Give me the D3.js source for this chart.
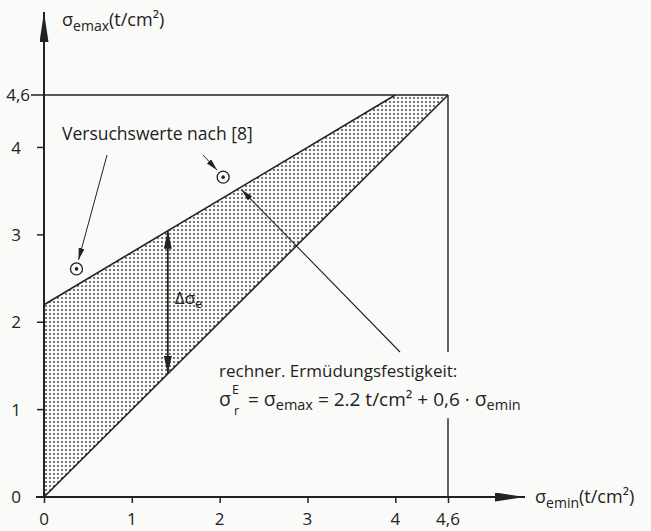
<!DOCTYPE html>
<html>
<head>
<meta charset="utf-8">
<script src="https://cdn.jsdelivr.net/npm/d3@7"></script>
<style>
  html, body { margin: 0; padding: 0; background: #fafaf8; }
  svg { display: block; font-family: "Open Sans", sans-serif; }
</style>
</head>
<body>
<div id="chart"></div>
<script>
// Achsenteilung
const xTicks = [0, 1, 2, 3, 4, 4.6];
const yTicks = [0, 1, 2, 3, 4, 4.6];
const tickLabels = ["0", "1", "2", "3", "4", "4,6"];

// Grenzlinien des Dauerfestigkeitsbereichs
const lowerLine = [[0, 0], [4.6, 4.6]];       // σemax = σemin
const upperLine = [[0, 2.2], [4, 4.6]];       // σemax = 2.2 + 0.6·σemin
const capLine = [[0, 4.6], [4.6, 4.6]];

// Versuchswerte nach [8]
const testPoints = [[0.37, 2.61], [2.04, 3.66]];

// Δσe Pfeil bei σemin = 1.41
const deltaX = 1.41;

const width = 651, height = 531;

const svg = d3.select("#chart").append("svg")
    .attr("width", width)
    .attr("height", height);

const x = d3.scaleLinear().domain([0, 4.6]).range([44, 448]);
const y = d3.scaleLinear().domain([0, 4.6]).range([497, 95]);

const ink = "#222";

// Punktraster
const defs = svg.append("defs");
const pat = defs.append("pattern")
    .attr("id", "dots")
    .attr("patternUnits", "userSpaceOnUse")
    .attr("width", 4).attr("height", 4);
pat.append("circle").attr("cx", 2).attr("cy", 2).attr("r", 0.9).attr("fill", "#3a3a3a");

function head(id, w, h) {
    defs.append("marker")
        .attr("id", id)
        .attr("viewBox", `0 ${-h / 2} ${w} ${h}`)
        .attr("refX", w).attr("refY", 0)
        .attr("markerWidth", w).attr("markerHeight", h)
        .attr("markerUnits", "userSpaceOnUse")
        .attr("orient", "auto-start-reverse")
        .append("path")
        .attr("d", `M0,${-h / 2}L${w},0L0,${h / 2}Z`)
        .attr("fill", ink);
}
head("axisHead", 30, 9);
head("bigHead", 18, 8);
head("smallHead", 12, 6);

const line = d3.line().x(d => x(d[0])).y(d => y(d[1]));

// Fläche
const band = upperLine.concat(lowerLine.slice().reverse());
svg.append("path")
    .attr("d", line(band) + "Z")
    .attr("fill", "url(#dots)");

// Grenzlinien
svg.append("path").attr("d", line(lowerLine)).attr("stroke", ink).attr("stroke-width", 1.6).attr("fill", "none");
svg.append("path").attr("d", line(upperLine)).attr("stroke", ink).attr("stroke-width", 1.6).attr("fill", "none");
svg.append("path").attr("d", line(capLine)).attr("stroke", ink).attr("stroke-width", 1.6).attr("fill", "none");
// rechte Senkrechte, unterbrochen beim Text
svg.append("path").attr("d", line([[4.6, 4.6], [4.6, 1.66]])).attr("stroke", ink).attr("stroke-width", 1.4);
svg.append("path").attr("d", line([[4.6, 0.9], [4.6, 0]])).attr("stroke", ink).attr("stroke-width", 1.4);

// Achsen
const xAxis = svg.append("g")
    .attr("transform", `translate(0,${y(0)})`)
    .call(d3.axisBottom(x).tickValues(xTicks).tickSize(6).tickSizeOuter(0).tickFormat(""));
xAxis.select(".domain").remove();
xAxis.selectAll("line").attr("stroke", ink).attr("stroke-width", 1.5);

svg.append("line")
    .attr("x1", x(0) - 8).attr("y1", y(0))
    .attr("x2", 525).attr("y2", y(0))
    .attr("stroke", ink).attr("stroke-width", 2)
    .attr("marker-end", "url(#axisHead)");

svg.append("line")
    .attr("x1", x(0)).attr("y1", y(0))
    .attr("x2", x(0)).attr("y2", 12)
    .attr("stroke", ink).attr("stroke-width", 2)
    .attr("marker-end", "url(#axisHead)");

svg.selectAll(".ytick")
    .data(yTicks)
    .join("line")
    .attr("x1", (d, i) => i === yTicks.length - 1 ? 31 : x(0) - 7)
    .attr("x2", x(0))
    .attr("y1", d => y(d)).attr("y2", d => y(d))
    .attr("stroke", ink).attr("stroke-width", 1.5);

svg.selectAll(".xlab")
    .data(xTicks)
    .join("text")
    .attr("x", d => x(d))
    .attr("y", 525)
    .attr("text-anchor", "middle")
    .attr("font-size", 17)
    .attr("fill", ink)
    .text((d, i) => tickLabels[i]);

svg.selectAll(".ylab")
    .data(yTicks)
    .join("text")
    .attr("x", (d, i) => i === yTicks.length - 1 ? 30 : 21)
    .attr("y", d => y(d))
    .attr("dy", "0.36em")
    .attr("text-anchor", "end")
    .attr("font-size", 17)
    .attr("fill", ink)
    .text((d, i) => tickLabels[i]);

// Achsentitel
function sigmaLabel(px, py, sub, tail, big) {
    const t = svg.append("text").attr("x", px).attr("y", py).attr("fill", ink).attr("font-size", big);
    t.append("tspan").text("σ");
    t.append("tspan").attr("font-size", big * 0.78).attr("dy", 5).text(sub);
    if (tail) t.append("tspan").attr("dy", -5).text(tail);
    return t;
}
sigmaLabel(62, 26, "emax", "(t/cm²)", 18);
sigmaLabel(535, 503, "emin", "(t/cm²)", 18);

// Versuchswerte
const pts = svg.selectAll(".pt").data(testPoints).join("g");
pts.append("circle")
    .attr("cx", d => x(d[0])).attr("cy", d => y(d[1]))
    .attr("r", 6).attr("fill", "none").attr("stroke", ink).attr("stroke-width", 1.3);
pts.append("circle")
    .attr("cx", d => x(d[0])).attr("cy", d => y(d[1]))
    .attr("r", 1.8).attr("fill", ink);

svg.append("text")
    .attr("x", 62).attr("y", 140)
    .attr("font-size", 17.5).attr("fill", ink)
    .text("Versuchswerte nach [8]");

// Hinweispfeile zu den Punkten
svg.append("line")
    .attr("x1", 107).attr("y1", 155)
    .attr("x2", x(testPoints[0][0]) + 2).attr("y2", y(testPoints[0][1]) - 9)
    .attr("stroke", ink).attr("stroke-width", 1)
    .attr("marker-end", "url(#smallHead)");
svg.append("line")
    .attr("x1", 203).attr("y1", 155)
    .attr("x2", x(testPoints[1][0]) - 6).attr("y2", y(testPoints[1][1]) - 7)
    .attr("stroke", ink).attr("stroke-width", 1)
    .attr("marker-end", "url(#smallHead)");

// Δσe Doppelpfeil
const upperAt = v => 2.2 + 0.6 * v;
svg.append("line")
    .attr("x1", x(deltaX)).attr("y1", y(deltaX))
    .attr("x2", x(deltaX)).attr("y2", y(upperAt(deltaX)))
    .attr("stroke", ink).attr("stroke-width", 1.8)
    .attr("marker-start", "url(#bigHead)")
    .attr("marker-end", "url(#bigHead)");

const dl = svg.append("text")
    .attr("x", x(deltaX) + 7).attr("y", 304)
    .attr("font-size", 17).attr("fill", ink);
dl.append("tspan").text("Δσ");
dl.append("tspan").attr("font-size", 13).attr("dy", 4).text("e");

// Pfeil zur Formel
const fx = 2.25;
svg.append("line")
    .attr("x1", 400).attr("y1", 352)
    .attr("x2", x(fx)).attr("y2", y(upperAt(fx)) + 3)
    .attr("stroke", ink).attr("stroke-width", 1.1)
    .attr("marker-end", "url(#smallHead)");

svg.append("text")
    .attr("x", 219).attr("y", 377)
    .attr("font-size", 17).attr("fill", ink)
    .text("rechner. Ermüdungsfestigkeit:");

// Formel: σrE = σemax = 2.2 t/cm² + 0,6 · σemin
svg.append("text")
    .attr("x", 219).attr("y", 406)
    .attr("font-size", 19.5).attr("fill", ink)
    .text("σ");
svg.append("text")
    .attr("x", 232).attr("y", 394)
    .attr("font-size", 12.5).attr("fill", ink)
    .text("E");
svg.append("text")
    .attr("x", 234).attr("y", 415)
    .attr("font-size", 12.5).attr("fill", ink)
    .text("r");
const f = svg.append("text")
    .attr("x", 248).attr("y", 406)
    .attr("font-size", 19).attr("fill", ink);
f.append("tspan").text("= ");
f.append("tspan").attr("font-size", 19.5).text("σ");
f.append("tspan").attr("font-size", 14.5).attr("dy", 4).text("emax");
f.append("tspan").attr("dy", -4).text(" = 2.2 t/cm² + 0,6 · ");
f.append("tspan").attr("font-size", 19.5).text("σ");
f.append("tspan").attr("font-size", 14.5).attr("dy", 4).text("emin");
</script>
</body>
</html>
